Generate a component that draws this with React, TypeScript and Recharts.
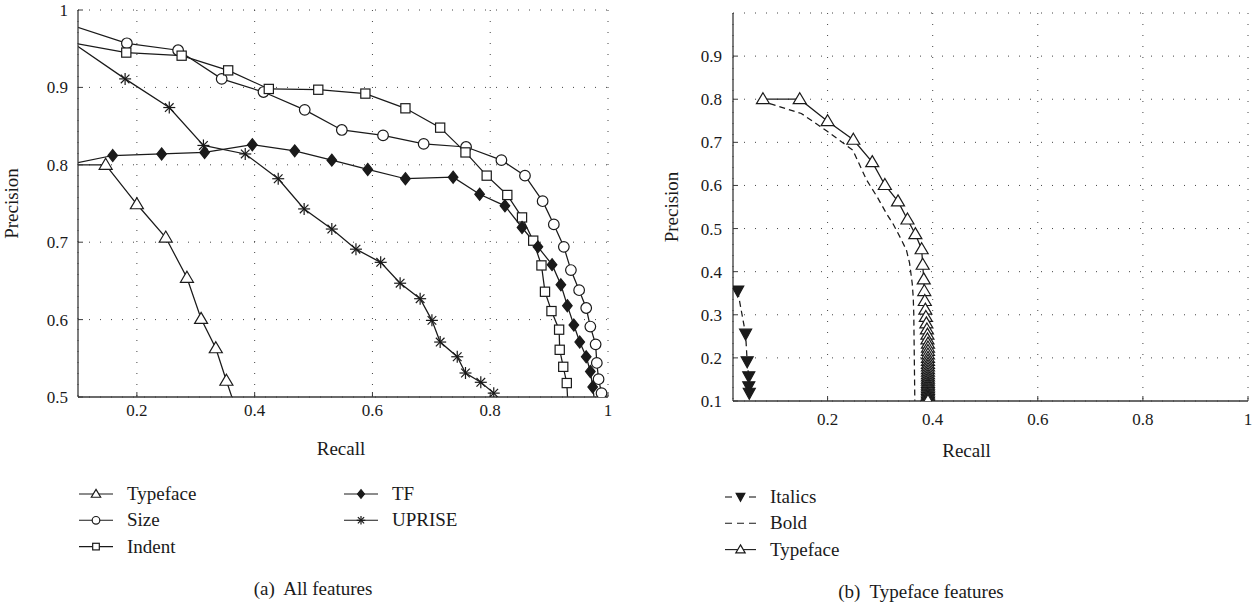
import React from 'react'
import { LineChart, Line, XAxis, YAxis, CartesianGrid, Label } from 'recharts'

const FONT = 'Liberation Serif, DejaVu Serif, Times New Roman, serif'
const INK = '#1a1a1a'
const FRAME = '#3a3a3a'

// ---- (a) All features ----
const aXTicks = [0.2, 0.4, 0.6, 0.8, 1]
const aYTicks = [0.5, 0.6, 0.7, 0.8, 0.9, 1]
const aXDomain = [0.1, 1]
const aYDomain = [0.5, 1]

// shared typeface curve (used in both panels)
const typefaceX = [0.077, 0.147, 0.2, 0.249, 0.285, 0.309, 0.334, 0.352, 0.367, 0.379, 0.381, 0.383, 0.384, 0.385, 0.386, 0.387, 0.388, 0.389, 0.39, 0.39, 0.391, 0.391, 0.391, 0.391, 0.391, 0.391, 0.391, 0.391, 0.391, 0.391, 0.391, 0.391, 0.391, 0.391, 0.391, 0.391, 0.391, 0.391, 0.391, 0.391, 0.391, 0.391, 0.391, 0.391, 0.391, 0.391, 0.391]
const typefaceY = [0.8, 0.8, 0.749, 0.706, 0.654, 0.601, 0.563, 0.521, 0.487, 0.452, 0.416, 0.382, 0.355, 0.332, 0.312, 0.295, 0.28, 0.266, 0.254, 0.243, 0.233, 0.224, 0.216, 0.208, 0.2, 0.193, 0.186, 0.18, 0.174, 0.168, 0.162, 0.157, 0.152, 0.147, 0.142, 0.138, 0.134, 0.13, 0.126, 0.122, 0.118, 0.115, 0.112, 0.109, 0.106, 0.103, 0.1]

const sizeX = [0.05, 0.183, 0.27, 0.344, 0.415, 0.485, 0.548, 0.618, 0.687, 0.759, 0.819, 0.859, 0.889, 0.908, 0.925, 0.937, 0.951, 0.963, 0.97, 0.979, 0.981, 0.984, 0.989]
const sizeY = [0.99, 0.957, 0.948, 0.911, 0.894, 0.871, 0.845, 0.838, 0.827, 0.823, 0.806, 0.786, 0.753, 0.723, 0.694, 0.664, 0.638, 0.615, 0.591, 0.568, 0.544, 0.523, 0.505]

const indentX = [0.05, 0.182, 0.276, 0.355, 0.424, 0.508, 0.588, 0.656, 0.715, 0.758, 0.794, 0.829, 0.854, 0.873, 0.887, 0.893, 0.904, 0.917, 0.918, 0.924, 0.93, 0.932]
const indentY = [0.963, 0.945, 0.941, 0.922, 0.898, 0.897, 0.892, 0.873, 0.848, 0.816, 0.786, 0.761, 0.732, 0.702, 0.67, 0.636, 0.611, 0.587, 0.561, 0.539, 0.518, 0.49]

const tfX = [0.05, 0.159, 0.242, 0.315, 0.396, 0.468, 0.531, 0.592, 0.656, 0.737, 0.782, 0.825, 0.854, 0.881, 0.905, 0.92, 0.931, 0.942, 0.952, 0.963, 0.97, 0.974, 0.978]
const tfY = [0.795, 0.812, 0.814, 0.816, 0.826, 0.818, 0.806, 0.794, 0.782, 0.784, 0.762, 0.747, 0.719, 0.694, 0.671, 0.645, 0.618, 0.593, 0.571, 0.552, 0.533, 0.513, 0.49]

const upriseX = [0.05, 0.18, 0.255, 0.313, 0.384, 0.44, 0.484, 0.531, 0.572, 0.614, 0.647, 0.681, 0.701, 0.715, 0.744, 0.758, 0.784, 0.806]
const upriseY = [0.979, 0.911, 0.874, 0.825, 0.814, 0.782, 0.743, 0.717, 0.691, 0.674, 0.647, 0.627, 0.599, 0.571, 0.552, 0.531, 0.519, 0.505]

// ---- (b) Typeface features ----
const bXTicks = [0.2, 0.4, 0.6, 0.8, 1]
const bYTicks = [0.1, 0.2, 0.3, 0.4, 0.5, 0.6, 0.7, 0.8, 0.9]
const bXDomain = [0.02, 1]
const bYDomain = [0.1, 1]

const italicsX = [0.029, 0.044, 0.047, 0.05, 0.05, 0.051]
const italicsY = [0.355, 0.255, 0.191, 0.156, 0.133, 0.118]

const boldX = [0.09, 0.15, 0.2, 0.248, 0.274, 0.295, 0.312, 0.325, 0.34, 0.35, 0.356, 0.361, 0.363, 0.364, 0.365, 0.366]
const boldY = [0.79, 0.767, 0.725, 0.682, 0.613, 0.572, 0.535, 0.51, 0.475, 0.45, 0.42, 0.373, 0.34, 0.303, 0.2, 0.1]

type Pt = { x: number; y: number }
const zip = (xs: number[], ys: number[]): Pt[] => xs.map((x, i) => ({ x, y: ys[i] }))

const seriesA = [
  { name: 'Typeface', shape: 'triangle', data: zip(typefaceX, typefaceY) },
  { name: 'Size', shape: 'circle', data: zip(sizeX, sizeY) },
  { name: 'Indent', shape: 'square', data: zip(indentX, indentY) },
  { name: 'TF', shape: 'diamond', data: zip(tfX, tfY) },
  { name: 'UPRISE', shape: 'star', data: zip(upriseX, upriseY) },
]

const seriesB = [
  { name: 'Italics', shape: 'triDown', dash: '6 4', data: zip(italicsX, italicsY) },
  { name: 'Bold', shape: 'none', dash: '6 4', data: zip(boldX, boldY) },
  { name: 'Typeface', shape: 'triangle', dash: undefined, data: zip(typefaceX, typefaceY) },
]

function Marker({ shape, cx, cy, s = 1 }: { shape: string; cx: number; cy: number; s?: number }) {
  const k = { stroke: INK, strokeWidth: 1.2 }
  switch (shape) {
    case 'circle':
      return <circle cx={cx} cy={cy} r={5.3 * s} fill="#fff" {...k} />
    case 'square':
      return <rect x={cx - 4.6 * s} y={cy - 4.6 * s} width={9.2 * s} height={9.2 * s} fill="#fff" {...k} />
    case 'triangle':
      return (
        <polygon
          points={`${cx},${cy - 6.5 * s} ${cx + 6.5 * s},${cy + 4.5 * s} ${cx - 6.5 * s},${cy + 4.5 * s}`}
          fill="#fff"
          {...k}
        />
      )
    case 'triDown':
      return (
        <polygon
          points={`${cx - 6 * s},${cy - 5 * s} ${cx + 6 * s},${cy - 5 * s} ${cx},${cy + 6 * s}`}
          fill={INK}
          {...k}
        />
      )
    case 'diamond':
      return (
        <polygon
          points={`${cx},${cy - 6 * s} ${cx + 4.8 * s},${cy} ${cx},${cy + 6 * s} ${cx - 4.8 * s},${cy}`}
          fill={INK}
          {...k}
        />
      )
    case 'star': {
      const r = 6 * s
      const d = r * 0.72
      return (
        <g stroke={INK} strokeWidth={1.2}>
          <line x1={cx - r} y1={cy} x2={cx + r} y2={cy} />
          <line x1={cx} y1={cy - r} x2={cx} y2={cy + r} />
          <line x1={cx - d} y1={cy - d} x2={cx + d} y2={cy + d} />
          <line x1={cx - d} y1={cy + d} x2={cx + d} y2={cy - d} />
        </g>
      )
    }
    default:
      return null
  }
}

const makeDot = (shape: string, xd: number[], yd: number[]) => (props: any) => {
  const { cx, cy, index, payload } = props
  const inside =
    payload && payload.x >= xd[0] && payload.x <= xd[1] && payload.y >= yd[0] && payload.y <= yd[1]
  if (!inside || shape === 'none') return <g key={index} />
  return (
    <g key={index}>
      <Marker shape={shape} cx={cx} cy={cy} />
    </g>
  )
}

const AxisTitle = (props: any) => {
  const { viewBox, value, dx = 0, dy = 0, vertical = false } = props
  const vb = viewBox || { x: 0, y: 0, width: 0, height: 0 }
  if (vertical) {
    const x = vb.x + dx
    const y = vb.y + vb.height / 2
    return (
      <text x={x} y={y} transform={`rotate(-90 ${x} ${y})`} textAnchor="middle" fontSize={19} fontFamily={FONT} fill={INK}>
        {value}
      </text>
    )
  }
  return (
    <text x={vb.x + vb.width / 2 + dx} y={vb.y + dy} textAnchor="middle" fontSize={19} fontFamily={FONT} fill={INK}>
      {value}
    </text>
  )
}

const tickStyle = { fontSize: 17, fill: INK, fontFamily: FONT }
const axisLine = { stroke: FRAME, strokeWidth: 1.3 }

function Panel(props: {
  series: any[]
  xd: number[]
  yd: number[]
  xt: number[]
  yt: number[]
  margin: any
  yWidth: number
  yTickMargin: number
  xTickMargin: number
  yTitleDx: number
  xTitleDx: number
  xTitleDy: number
}) {
  const { series, xd, yd, xt, yt } = props
  return (
    <LineChart width={628} height={460} margin={props.margin} style={{ fontFamily: FONT }}>
      <CartesianGrid stroke="#444" strokeWidth={1} strokeDasharray="1 10" />
      <XAxis
        dataKey="x"
        type="number"
        domain={xd}
        ticks={xt}
        allowDataOverflow
        height={50}
        tickSize={-5}
        tickMargin={props.xTickMargin}
        tick={tickStyle}
        axisLine={axisLine}
        tickLine={{ stroke: FRAME }}
        tickFormatter={(v: number) => String(v)}
      >
        <Label content={<AxisTitle value="Recall" dx={props.xTitleDx} dy={props.xTitleDy} />} />
      </XAxis>
      <XAxis
        xAxisId="top"
        orientation="top"
        dataKey="x"
        type="number"
        domain={xd}
        ticks={xt}
        allowDataOverflow
        height={0}
        tickSize={-5}
        tick={tickStyle}
        tickFormatter={() => ''}
        axisLine={axisLine}
        tickLine={{ stroke: FRAME }}
      />
      <YAxis
        type="number"
        domain={yd}
        ticks={yt}
        allowDataOverflow
        width={props.yWidth}
        tickSize={-5}
        tickMargin={props.yTickMargin}
        tick={tickStyle}
        axisLine={axisLine}
        tickLine={{ stroke: FRAME }}
        tickFormatter={(v: number) => String(v)}
      >
        <Label content={<AxisTitle value="Precision" vertical dx={props.yTitleDx} />} />
      </YAxis>
      <YAxis
        yAxisId="right"
        orientation="right"
        type="number"
        domain={yd}
        ticks={yt}
        allowDataOverflow
        width={0}
        tickSize={-5}
        tick={tickStyle}
        tickFormatter={() => ''}
        axisLine={axisLine}
        tickLine={{ stroke: FRAME }}
      />
      {series.map((s) => (
        <Line
          key={s.name + s.shape}
          data={s.data}
          dataKey="y"
          name={s.name}
          type="linear"
          stroke={INK}
          strokeWidth={1.25}
          strokeDasharray={s.dash}
          dot={makeDot(s.shape, xd, yd)}
          activeDot={false}
          isAnimationActive={false}
        />
      ))}
    </LineChart>
  )
}

function LegendItem({ x, y, shape, dashed, label, w = 34 }: any) {
  const my = y - 6
  return (
    <g>
      {dashed && shape !== 'none' ? (
        <>
          <line x1={x} y1={my} x2={x + 7} y2={my} stroke={INK} strokeWidth={1.1} />
          <line x1={x + w - 7} y1={my} x2={x + w} y2={my} stroke={INK} strokeWidth={1.1} />
        </>
      ) : (
        <line x1={x} y1={my} x2={x + w} y2={my} stroke={INK} strokeWidth={1.1} strokeDasharray={dashed ? '7 5' : undefined} />
      )}
      {shape !== 'none' && <Marker shape={shape} cx={x + w / 2} cy={my} s={0.72} />}
      <text x={x + w + 14} y={y} fontSize={19} fontFamily={FONT} fill={INK}>
        {label}
      </text>
    </g>
  )
}

export default function App() {
  return (
    <div style={{ position: 'absolute', left: 0, top: 0, width: 1256, height: 609, background: '#fff', overflow: 'hidden', fontFamily: FONT }}>
      <div style={{ position: 'absolute', left: 0, top: 0 }}>
        <Panel
          series={seriesA}
          xd={aXDomain}
          yd={aYDomain}
          xt={aXTicks}
          yt={aYTicks}
          margin={{ top: 10, right: 20, left: 0, bottom: 13 }}
          yWidth={78}
          yTickMargin={15}
          xTickMargin={12}
          yTitleDx={18}
          xTitleDx={-2}
          xTitleDy={58}
        />
      </div>
      <div style={{ position: 'absolute', left: 628, top: 0 }}>
        <Panel
          series={seriesB}
          xd={bXDomain}
          yd={bYDomain}
          xt={bXTicks}
          yt={bYTicks}
          margin={{ top: 13, right: 8, left: 0, bottom: 9 }}
          yWidth={105}
          yTickMargin={16}
          xTickMargin={17}
          yTitleDx={50}
          xTitleDx={-24}
          xTitleDy={56}
        />
      </div>
      <svg width={1256} height={609} style={{ position: 'absolute', left: 0, top: 0, pointerEvents: 'none' }}>
        {seriesA.slice(0, 3).map((s, i) => (
          <LegendItem key={s.name} x={79} y={500 + i * 26.3} shape={s.shape} label={s.name} />
        ))}
        {seriesA.slice(3).map((s, i) => (
          <LegendItem key={s.name} x={344} y={500 + i * 26.3} shape={s.shape} label={s.name} />
        ))}
        {seriesB.map((s, i) => (
          <LegendItem key={s.name} x={725} y={503 + i * 26.3} shape={s.shape} dashed={!!s.dash} label={s.name} w={31} />
        ))}
        <text x={313} y={595} textAnchor="middle" fontSize={19} fontFamily={FONT} fill={INK} style={{ whiteSpace: 'pre' }}>
          (a)  All features
        </text>
        <text x={921} y={598} textAnchor="middle" fontSize={19} fontFamily={FONT} fill={INK} style={{ whiteSpace: 'pre' }}>
          (b)  Typeface features
        </text>
      </svg>
    </div>
  )
}
